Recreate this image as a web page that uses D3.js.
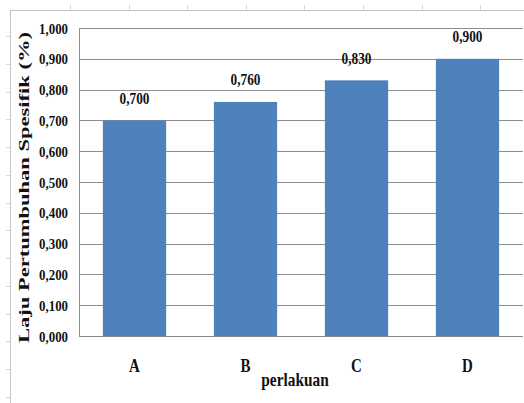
<!DOCTYPE html>
<html>
<head>
<meta charset="utf-8">
<script src="https://cdn.jsdelivr.net/npm/d3@7/dist/d3.min.js"></script>
<style>
  html, body { margin: 0; padding: 0; background: #fff; }
  svg { display: block; }
  text { font-family: "Liberation Serif", "Times New Roman", serif; font-weight: bold; fill: #111; }
</style>
</head>
<body>
<svg id="chart" width="524" height="403"></svg>
<script>
// Chart data
const categories = ["A", "B", "C", "D"];
const values = [0.700, 0.760, 0.830, 0.900];
const valueLabels = ["0,700", "0,760", "0,830", "0,900"];
const yTicks = [0, 0.1, 0.2, 0.3, 0.4, 0.5, 0.6, 0.7, 0.8, 0.9, 1.0];
const yTickLabels = ["0,000", "0,100", "0,200", "0,300", "0,400", "0,500", "0,600", "0,700", "0,800", "0,900", "1,000"];
const xTitle = "perlakuan";
const yTitle = "Laju Pertumbuhan Spesifik (%)";

const svg = d3.select("#chart");
const W = 524, H = 403;
const plot = { left: 79, right: 523, top: 28, bottom: 336 };
const squeeze = 0.83; // condensed serif look

const x = d3.scaleBand().domain(categories).range([plot.left, plot.right])
  .paddingInner(0.43).paddingOuter(0.215);
const y = d3.scaleLinear().domain([0, 1]).range([plot.bottom, plot.top]);

// Outer page frame with ruler ticks
const frame = svg.append("g").attr("stroke", "#c4c4c4").attr("stroke-width", 1);
frame.append("line").attr("x1", 10).attr("x2", W).attr("y1", 10.5).attr("y2", 10.5);
frame.append("line").attr("x1", 10.5).attr("x2", 10.5).attr("y1", 10).attr("y2", H);
frame.selectAll(".tt").data(d3.range(8)).join("line")
  .attr("x1", i => Math.round(70 + i * 58.6) + 0.5).attr("x2", i => Math.round(70 + i * 58.6) + 0.5)
  .attr("y1", 5).attr("y2", 10).attr("stroke", "#d8d8d8");
frame.selectAll(".lt").data(d3.range(14)).join("line")
  .attr("x1", 6).attr("x2", 10)
  .attr("y1", i => Math.round(36 + i * 27.77) + 0.5).attr("y2", i => Math.round(36 + i * 27.77) + 0.5)
  .attr("stroke", "#d8d8d8");

// Gridlines
svg.append("g").selectAll("line").data(yTicks).join("line")
  .attr("x1", plot.left).attr("x2", plot.right)
  .attr("y1", d => Math.round(y(d)) + 0.5).attr("y2", d => Math.round(y(d)) + 0.5)
  .attr("stroke", "#8e8e8e").attr("stroke-width", 1);

// Left plot edge
svg.append("line")
  .attr("x1", plot.left + 0.5).attr("x2", plot.left + 0.5)
  .attr("y1", plot.top).attr("y2", plot.bottom)
  .attr("stroke", "#8e8e8e");

// Bars
svg.append("g").selectAll("rect").data(values).join("rect")
  .attr("x", (d, i) => x(categories[i]))
  .attr("width", x.bandwidth())
  .attr("y", d => y(d))
  .attr("height", d => y(0) - y(d))
  .attr("fill", "#4f81bd");

// Bottom axis line
svg.append("line")
  .attr("x1", plot.left).attr("x2", plot.right)
  .attr("y1", Math.round(y(0)) + 0.5).attr("y2", Math.round(y(0)) + 0.5)
  .attr("stroke", "#888").attr("stroke-width", 1.2);

// Helper for condensed text
function ctext(g, tx, ty, str, size, anchor) {
  return g.append("text")
    .attr("transform", `translate(${tx},${ty}) scale(${squeeze},1)`)
    .attr("text-anchor", anchor)
    .attr("font-size", size)
    .text(str);
}

// Y tick labels
const yl = svg.append("g");
yTicks.forEach((t, i) => ctext(yl, 68, y(t) + 5.5, yTickLabels[i], 15.5, "end"));

// Value labels
const vl = svg.append("g");
values.forEach((v, i) => ctext(vl, x(categories[i]) + x.bandwidth() / 2, y(v) - 16.5, valueLabels[i], 16, "middle"));

// Category labels
const cl = svg.append("g");
categories.forEach(c => ctext(cl, x(c) + x.bandwidth() / 2, 372, c, 18, "middle"));

// Axis titles
ctext(svg, 295, 386, xTitle, 18.5, "middle");

svg.append("text")
  .attr("transform", "translate(29,187.5) rotate(-90)")
  .attr("text-anchor", "middle")
  .attr("font-size", 15)
  .attr("textLength", 311)
  .attr("lengthAdjust", "spacingAndGlyphs")
  .text(yTitle);
</script>
</body>
</html>
